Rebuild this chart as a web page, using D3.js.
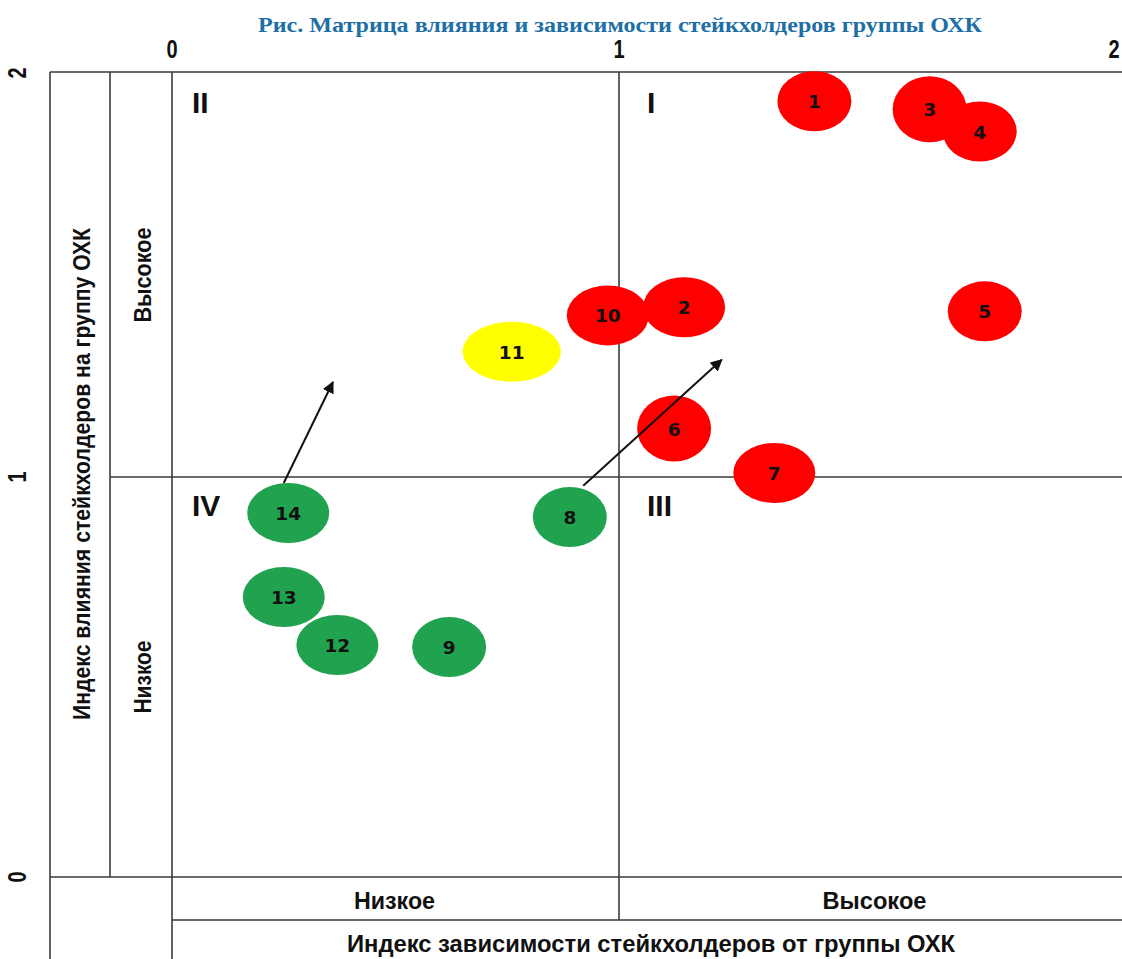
<!DOCTYPE html>
<html>
<head>
<meta charset="utf-8">
<script src="https://cdn.jsdelivr.net/npm/d3@7"></script>
<style>
  body { margin: 0; background: #fff; }
  text { font-family: "Liberation Sans Narrow", "Arial Narrow", "Liberation Sans", sans-serif; }
  .tick-label { font-size: 25px; font-weight: bold; fill: #111; }
  .cat-label { font-size: 24px; font-weight: bold; fill: #111; }
  .quad { font-family: "Liberation Sans", Arial, sans-serif; font-size: 30px; font-weight: bold; fill: #111; }
  .bubble-label { font-family: "DejaVu Sans", Verdana, sans-serif; font-size: 18.5px; font-weight: bold; fill: #111; }
</style>
</head>
<body>
<svg width="1122" height="959"></svg>
<script>
const title = 'Рис. Матрица влияния и зависимости стейкхолдеров группы ОХК';
const xTitle = 'Индекс зависимости стейкхолдеров от группы ОХК';
const yTitle = 'Индекс влияния стейкхолдеров на группу ОХК';
const levelLabels = ['Низкое', 'Высокое'];
const tickValues = [0, 1, 2];

// stakeholders: id, dependence (x), influence (y), group
const ids        = [1, 2, 3, 4, 5, 6, 7, 8, 9, 10, 11, 12, 13, 14];
const dependence = [1.39, 1.13, 1.62, 1.72, 1.73, 1.11, 1.31, 0.89, 0.62, 0.975, 0.76, 0.37, 0.25, 0.26];
const influence  = [1.93, 1.42, 1.91, 1.855, 1.41, 1.12, 1.01, 0.90, 0.575, 1.40, 1.31, 0.58, 0.70, 0.91];
const groups     = ['r', 'r', 'r', 'r', 'r', 'r', 'r', 'g', 'g', 'r', 'y', 'g', 'g', 'g'];

// movement arrows (from -> to), in index units
const arrowFrom = [[0.25, 0.985], [0.92, 0.978]];
const arrowTo   = [[0.36, 1.235], [1.205, 1.29]];

const quadrants = [
  { name: 'II', x: 0, y: 2 },
  { name: 'I', x: 1, y: 2 },
  { name: 'IV', x: 0, y: 1 },
  { name: 'III', x: 1, y: 1 }
];

const colors = { r: '#ff0000', g: '#21a24e', y: '#ffff00' };

const data = ids.map((id, i) => ({ id, x: dependence[i], y: influence[i], g: groups[i] }));

const svg = d3.select('svg');
const W = 1122, H = 959;

const xScale = d3.scaleLinear().domain([0, 1, 2]).range([172, 619, 1120]);
const yScale = d3.scaleLinear().domain([0, 1, 2]).range([877, 477, 73]);

const frameTop = 72, outerLeft = 50, midLeft = 110;
const rowBottom = 920;
const lineColor = '#3a3a3a';

// title
svg.append('text')
  .attr('x', 620).attr('y', 32)
  .attr('text-anchor', 'middle')
  .attr('textLength', 724)
  .attr('lengthAdjust', 'spacingAndGlyphs')
  .style('font-family', '"Liberation Serif", "Times New Roman", serif')
  .style('font-size', '21px')
  .style('font-weight', 'bold')
  .attr('fill', '#1e6fa6')
  .text(title);

// frame lines
const grid = svg.append('g').attr('stroke', lineColor).attr('stroke-width', 1.6);
const seg = (x1, y1, x2, y2) => grid.append('line')
  .attr('x1', x1).attr('y1', y1).attr('x2', x2).attr('y2', y2);
seg(outerLeft, frameTop, W, frameTop);
seg(outerLeft, frameTop, outerLeft, H);
seg(midLeft, frameTop, midLeft, yScale(0));
seg(xScale(0), frameTop, xScale(0), H);
seg(xScale(1), frameTop, xScale(1), rowBottom);
seg(midLeft, yScale(1), W, yScale(1));
seg(outerLeft, yScale(0), W, yScale(0));
seg(xScale(0), rowBottom, W, rowBottom);

// top tick labels (narrowed to mimic the condensed face)
svg.selectAll('.xt').data(tickValues).enter().append('text')
  .attr('class', 'tick-label')
  .attr('transform', d => `translate(${Math.min(xScale(d), 1114)},58) scale(0.8,1)`)
  .attr('text-anchor', 'middle')
  .text(d => d);

// left tick labels (rotated)
svg.selectAll('.yt').data(tickValues).enter().append('text')
  .attr('class', 'tick-label')
  .attr('transform', d => `translate(26,${yScale(d)}) rotate(-90) scale(0.8,1)`)
  .attr('text-anchor', 'middle')
  .text(d => d);

// bottom category row
const xCatWidth = [81, 104];
svg.selectAll('.xc').data(levelLabels).enter().append('text')
  .attr('class', 'cat-label')
  .attr('x', (d, i) => (xScale(i) + xScale(i + 1)) / 2 + (i === 0 ? -1 : 5))
  .attr('y', 909)
  .attr('text-anchor', 'middle')
  .attr('textLength', (d, i) => xCatWidth[i])
  .attr('lengthAdjust', 'spacingAndGlyphs')
  .text(d => d);

svg.append('text')
  .attr('class', 'cat-label')
  .attr('x', 651).attr('y', 952)
  .attr('text-anchor', 'middle')
  .attr('textLength', 608)
  .attr('lengthAdjust', 'spacingAndGlyphs')
  .text(xTitle);

// left category column
const yCatWidth = [73, 95];
svg.selectAll('.yc').data(levelLabels).enter().append('text')
  .attr('class', 'cat-label')
  .attr('transform', (d, i) => `translate(151,${(yScale(i) + yScale(i + 1)) / 2}) rotate(-90)`)
  .attr('text-anchor', 'middle')
  .attr('textLength', (d, i) => yCatWidth[i])
  .attr('lengthAdjust', 'spacingAndGlyphs')
  .text(d => d);

svg.append('text')
  .attr('class', 'cat-label')
  .attr('transform', `translate(90,${yScale(1) - 3}) rotate(-90)`)
  .attr('text-anchor', 'middle')
  .attr('textLength', 492)
  .attr('lengthAdjust', 'spacingAndGlyphs')
  .text(yTitle);

// quadrant numerals
svg.selectAll('.quad').data(quadrants).enter().append('text')
  .attr('class', 'quad')
  .attr('x', d => xScale(d.x) + (d.x === 0 ? 20 : 28))
  .attr('y', d => yScale(d.y) + (d.y === 2 ? 40 : 39))
  .text(d => d.name);

// arrow head
const defs = svg.append('defs');
defs.append('marker')
  .attr('id', 'arrow')
  .attr('viewBox', '0 0 10 10')
  .attr('refX', 9).attr('refY', 5)
  .attr('markerWidth', 6).attr('markerHeight', 6)
  .attr('orient', 'auto')
  .append('path')
  .attr('d', 'M0,0 L10,5 L0,10 Z')
  .attr('fill', '#111');

// bubbles
const bubbles = svg.append('g');
bubbles.selectAll('ellipse').data(data).enter().append('ellipse')
  .attr('cx', d => xScale(d.x))
  .attr('cy', d => yScale(d.y))
  .attr('rx', d => d.id === 11 ? 49 : (String(d.id).length > 1 || d.id === 7 || d.id === 2 ? 41 : 37))
  .attr('ry', d => d.id === 6 || d.id === 3 ? 33 : 30)
  .attr('fill', d => colors[d.g]);

bubbles.selectAll('text').data(data).enter().append('text')
  .attr('class', 'bubble-label')
  .attr('x', d => xScale(d.x))
  .attr('y', d => yScale(d.y) + 7)
  .attr('text-anchor', 'middle')
  .text(d => d.id);

svg.append('g').selectAll('line').data(arrowFrom).enter().append('line')
  .attr('x1', d => xScale(d[0])).attr('y1', d => yScale(d[1]))
  .attr('x2', (d, i) => xScale(arrowTo[i][0])).attr('y2', (d, i) => yScale(arrowTo[i][1]))
  .attr('stroke', '#111')
  .attr('stroke-width', 2)
  .attr('marker-end', 'url(#arrow)');
</script>
</body>
</html>
